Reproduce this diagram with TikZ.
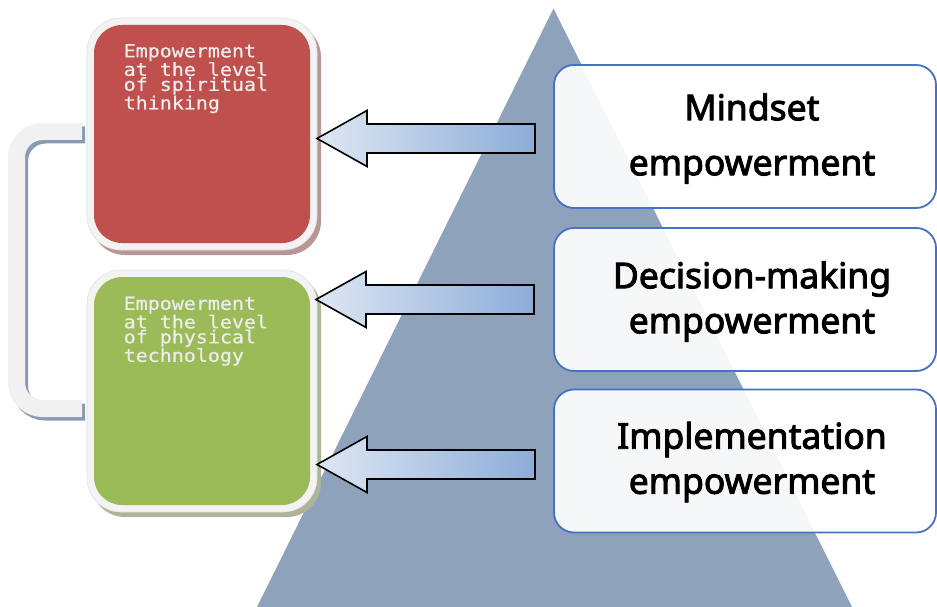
\documentclass[tikz,border=0pt]{standalone}
\usepackage{fontspec}
\setmainfont{Noto Sans}
\newfontfamily\levelfont{Noto Sans}[FakeBold=2.6]
\newfontfamily\tagfont{DejaVu Sans Mono}[FakeStretch=1.11, FakeBold=0.6]

\definecolor{pyramid}{RGB}{142,162,188}
\definecolor{levelblue}{RGB}{68,114,196}
\definecolor{spiritred}{RGB}{192,80,77}
\definecolor{spiritshadow}{RGB}{184,150,150}
\definecolor{physicalgreen}{RGB}{155,187,89}
\definecolor{physicalshadow}{RGB}{172,182,150}
\definecolor{framegray}{RGB}{243,243,243}
\definecolor{frameedge}{RGB}{225,225,225}
\definecolor{bracketgray}{RGB}{241,241,241}
\definecolor{bracketshadow}{RGB}{138,154,178}
\definecolor{arrowlight}{RGB}{222,231,243}
\definecolor{arrowdark}{RGB}{140,172,216}
\definecolor{tagwhite}{RGB}{236,236,236}

\tikzset{
  levelbox/.style={draw=levelblue, line width=1.8pt, rounded corners=20pt,
    fill=white, fill opacity=0.92, minimum width=382pt, minimum height=143pt,
    inner sep=0pt},
  leveltext/.style={align=center, inner sep=0pt, text=black,
    font=\levelfont\fontsize{35.5}{45}\selectfont},
  tagbox/.style={rounded corners=28pt, minimum width=216pt, inner sep=0pt},
  tagframe/.style={fill=framegray, draw=frameedge, line width=0.6pt, rounded corners=34pt},
  tagtext/.style={align=left, inner sep=0pt, anchor=north west, text=tagwhite,
    font=\tagfont\fontsize{18}{15}\selectfont},
  blockarrow/.style={draw=black, line width=1.6pt, line join=miter,
    left color=arrowlight, right color=arrowdark},
  pics/leftarrow/.style={code={
    \path[blockarrow] (0,0) -- ++(50,-28) -- ++(0,13.5) -- ++(168,0)
      -- ++(0,29) -- ++(-168,0) -- ++(0,13.5) -- cycle;}},
  bracketband/.style={line width=17pt, rounded corners=26pt}
}

\begin{document}
\begin{tikzpicture}[x=1pt, y=-1pt]
\useasboundingbox (0,0) rectangle (937,607);
\clip (0,0) rectangle (937,607);

% pyramid behind the three levels
\fill[pyramid] (553.5,8.5) -- (852,607) -- (257,607) -- cycle;

% three empowerment levels
\node[levelbox] (mindset) at (745,136.5) {};
\node[levelbox] (decision) at (745,299.5) {};
\node[levelbox] (implement) at (745,461) {};
\node[leveltext] (mindsettext) at (752,138.5) {Mindset\\[10pt]empowerment};
\node[leveltext] (decisiontext) at (752,301.5) {Decision-making\\empowerment};
\node[leveltext] (implementtext) at (752,462) {Implementation\\empowerment};

% bracket joining the two outcome boxes
\draw[bracketband, bracketshadow] (85,135) -- (19.5,135) -- (19.5,412) -- (85,412);
\draw[bracketband, bracketgray] (82,131.5) -- (16.5,131.5) -- (16.5,408.5) -- (82,408.5);

% outcome boxes: shadow, white frame, coloured face
\fill[spiritshadow, rounded corners=34pt] (91,23) rectangle (321,255);
\path[tagframe] (87,18) rectangle (317,250);
\node[tagbox, fill=spiritred, minimum height=218pt] (spirit) at (202,134) {};
\node[tagtext] (spirittext) at (123.5,44) {Empowerment\\at the level\\of spiritual\\thinking};

\fill[physicalshadow, rounded corners=34pt] (91,275) rectangle (321,517);
\path[tagframe] (87,270) rectangle (317,512);
\node[tagbox, fill=physicalgreen, minimum height=228pt] (physical) at (202,391) {};
\node[tagtext] (physicaltext) at (123.5,296.5) {Empowerment\\at the level\\of physical\\technology};

% arrows from each level to its outcome
\coordinate (tipA) at (317,138.5);
\coordinate (tipB) at (316,299.5);
\coordinate (tipC) at (317,464.5);
\pic at (tipA) {leftarrow};
\pic at (tipB) {leftarrow};
\pic at (tipC) {leftarrow};
\end{tikzpicture}
\end{document}
